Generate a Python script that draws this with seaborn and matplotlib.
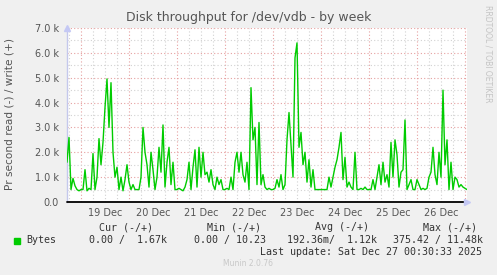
import matplotlib
matplotlib.use("Agg")
import matplotlib.pyplot as plt
import matplotlib.dates as mdates
from matplotlib.ticker import FuncFormatter, MultipleLocator
from matplotlib.patches import Rectangle
import seaborn as sns
import pandas as pd

# ---------------- data (write throughput, k bytes/s, hourly) ----------------
write_k = [
    1.6, 2.6, 0.5, 0.95, 0.65, 0.5, 0.45, 0.5, 0.5, 1.3,
    0.45, 0.55, 0.5, 1.95, 0.5, 1.0, 2.55, 1.5, 2.4, 3.8,
    4.95, 3.0, 4.8, 2.0, 1.0, 1.4, 0.5, 1.0, 0.45, 0.9,
    1.5, 0.8, 0.5, 0.7, 0.5, 0.5, 0.5, 1.0, 3.0, 2.0,
    1.5, 0.6, 2.0, 1.3, 0.5, 1.0, 2.2, 1.2, 3.1, 0.6,
    1.6, 2.2, 0.7, 1.6, 0.5, 0.5, 0.55, 0.5, 0.45, 0.6,
    0.9, 1.6, 0.5, 1.4, 2.1, 0.6, 2.2, 1.0,
    2.0, 1.1, 1.2, 0.8, 1.3, 0.7, 0.5, 1.0, 0.7, 0.9,
    0.5, 0.5, 0.55, 0.5, 1.0, 0.5, 1.6, 2.0, 1.2, 2.0,
    1.1, 0.8, 1.6, 0.5, 4.6, 2.5, 3.0, 0.7, 3.2, 0.7,
    1.1, 0.6, 0.5, 0.55, 0.5, 0.5, 0.55, 0.9, 0.6, 1.1,
    0.5, 0.7, 2.5, 3.6, 2.3, 1.0, 5.8, 6.4, 2.2, 2.8,
    1.5, 2.0, 0.8, 1.7, 0.6, 1.3, 0.5, 0.5, 0.5, 0.5,
    0.5, 0.5, 0.5, 1.0, 0.6, 1.0,
    1.4, 1.7, 2.2, 2.8, 0.9, 1.8, 0.6, 0.8, 0.6, 0.5,
    2.0, 0.5, 0.5, 0.55, 0.5, 0.6, 0.5, 0.5, 0.5, 0.9,
    0.5, 1.0, 1.5, 0.7, 1.6, 0.8, 1.1, 0.6, 2.4, 1.0,
    2.5, 1.9, 0.6, 1.2, 1.3, 3.3, 0.5, 0.7, 0.9, 0.5,
    0.5, 0.9, 0.7, 0.5, 0.55, 0.5, 0.55, 1.0, 1.2, 2.2,
    1.1, 0.7, 2.0, 1.0, 4.5, 1.5, 2.5, 0.5, 1.6, 0.5,
    1.0, 0.9, 0.6, 0.7, 0.6, 0.55, 0.5,
]
start_time = "2025-12-18 17:00"
end_time = "2025-12-27 01:00"

title = "Disk throughput for /dev/vdb - by week"
ylabel = "Pr second read (-) / write (+)"
side_text = "RRDTOOL / TOBI OETIKER"
headers = ["Cur (-/+)", "Min (-/+)", "Avg (-/+)", "Max (-/+)"]
series_name = "Bytes"
stats = ["0.00 /  1.67k", "0.00 / 10.23", "192.36m/  1.12k", "375.42 / 11.48k"]
last_update = "Last update: Sat Dec 27 00:30:33 2025"
footer = "Munin 2.0.76"

# ---------------- figure ----------------
sns.set_style("white")
plt.rcParams["font.family"] = ["DejaVu Sans"]

W, H = 497, 275
fig = plt.figure(figsize=(W / 100, H / 100), dpi=100, facecolor="#f0f0f0")
ax = fig.add_axes([67 / W, 1 - 202 / H, 400 / W, 174 / H])
ax.set_facecolor("white")

times = pd.date_range(start_time, periods=len(write_k), freq="h")
df = pd.DataFrame({"time": times, "bytes": [v * 1000 for v in write_k]})
sns.lineplot(data=df, x="time", y="bytes", color="#00cc00", lw=1.0, ax=ax, zorder=3)

ax.set_xlim(pd.Timestamp(start_time), pd.Timestamp(end_time))
ax.set_ylim(0, 7000)
ax.set_xlabel("")
ax.set_ylabel("")

# y axis
ax.yaxis.set_major_locator(MultipleLocator(1000))
ax.yaxis.set_minor_locator(MultipleLocator(500))
ax.yaxis.set_major_formatter(FuncFormatter(lambda v, p: "0.0" if v == 0 else f"{v/1000:.1f} k"))

# x axis
ax.xaxis.set_major_locator(mdates.DayLocator())
ax.xaxis.set_major_formatter(FuncFormatter(lambda v, p: ""))
ax.xaxis.set_minor_locator(mdates.HourLocator(byhour=[6, 12, 18]))
def minor_fmt(v, p):
    d = mdates.num2date(v)
    return d.strftime("%d Dec") if d.hour == 12 else ""
ax.xaxis.set_minor_formatter(FuncFormatter(minor_fmt))

ax.set_axisbelow(True)
ax.grid(which="major", color="#e6a0a0", ls=(0, (1, 2)), lw=0.8)
ax.grid(which="minor", color="#d2d2d2", ls=(0, (1, 2)), lw=0.8)

for s in ["top", "right", "bottom"]:
    ax.spines[s].set_visible(False)
ax.spines["left"].set_color("#c4c8ec")
ax.spines["left"].set_linewidth(1.0)
ax.axhline(0, color="black", lw=1.3, zorder=4, clip_on=False)

ax.tick_params(axis="y", which="both", length=2, color="#c4c8ec", labelsize=7,
               labelcolor="#555555", pad=4)
ax.tick_params(axis="x", which="major", length=2, color="#e07070", labelsize=7)
ax.tick_params(axis="x", which="minor", length=2, color="#c8c8c8", labelsize=7,
               labelcolor="#555555", pad=2)

# arrows of the axes
ax.plot([1.0], [0.0], marker=">", ms=5, color="#c4c8f4", transform=ax.transAxes,
        clip_on=False, zorder=5)
ax.plot([0.0], [1.0], marker="^", ms=5, color="#c4c8f4", transform=ax.transAxes,
        clip_on=False, zorder=5)

# texts
def px(x, y):
    return x / W, 1 - y / H

fig.text(*px(248.5, 18), title, ha="center", va="center", fontsize=9.0, color="#555555")
fig.text(*px(10, 114), ylabel, ha="center", va="center", rotation=90, fontsize=7.6,
         color="#555555")
fig.text(*px(488, 54), side_text, ha="center", va="center", rotation=270, fontsize=5.5,
         color="#c4c4c4")

mono = dict(family="DejaVu Sans Mono", fontsize=7.2, color="#333333", va="center")
for h, x0 in zip(headers, [98.7, 206.7, 315, 422.7]):
    fig.text(*px(x0, 227.5), h, ha="left", **mono)
fig.patches.append(Rectangle((14 / W, 1 - 244 / H), 6 / W, 6 / H, color="#00cc00",
                             transform=fig.transFigure, figure=fig))
fig.text(*px(26.7, 239.7), series_name, ha="left", **mono)
for s, x0 in zip(stats, [88.7, 194.3, 287.3, 392.7]):
    fig.text(*px(x0, 239.7), s, ha="left", **mono)
fig.text(*px(482.5, 251.7), last_update, ha="right", **mono)
fig.text(*px(248, 263.3), footer, ha="center", va="center", fontsize=5.5, color="#c8c8c8")

fig.savefig("out.png", dpi=100, facecolor=fig.get_facecolor())
